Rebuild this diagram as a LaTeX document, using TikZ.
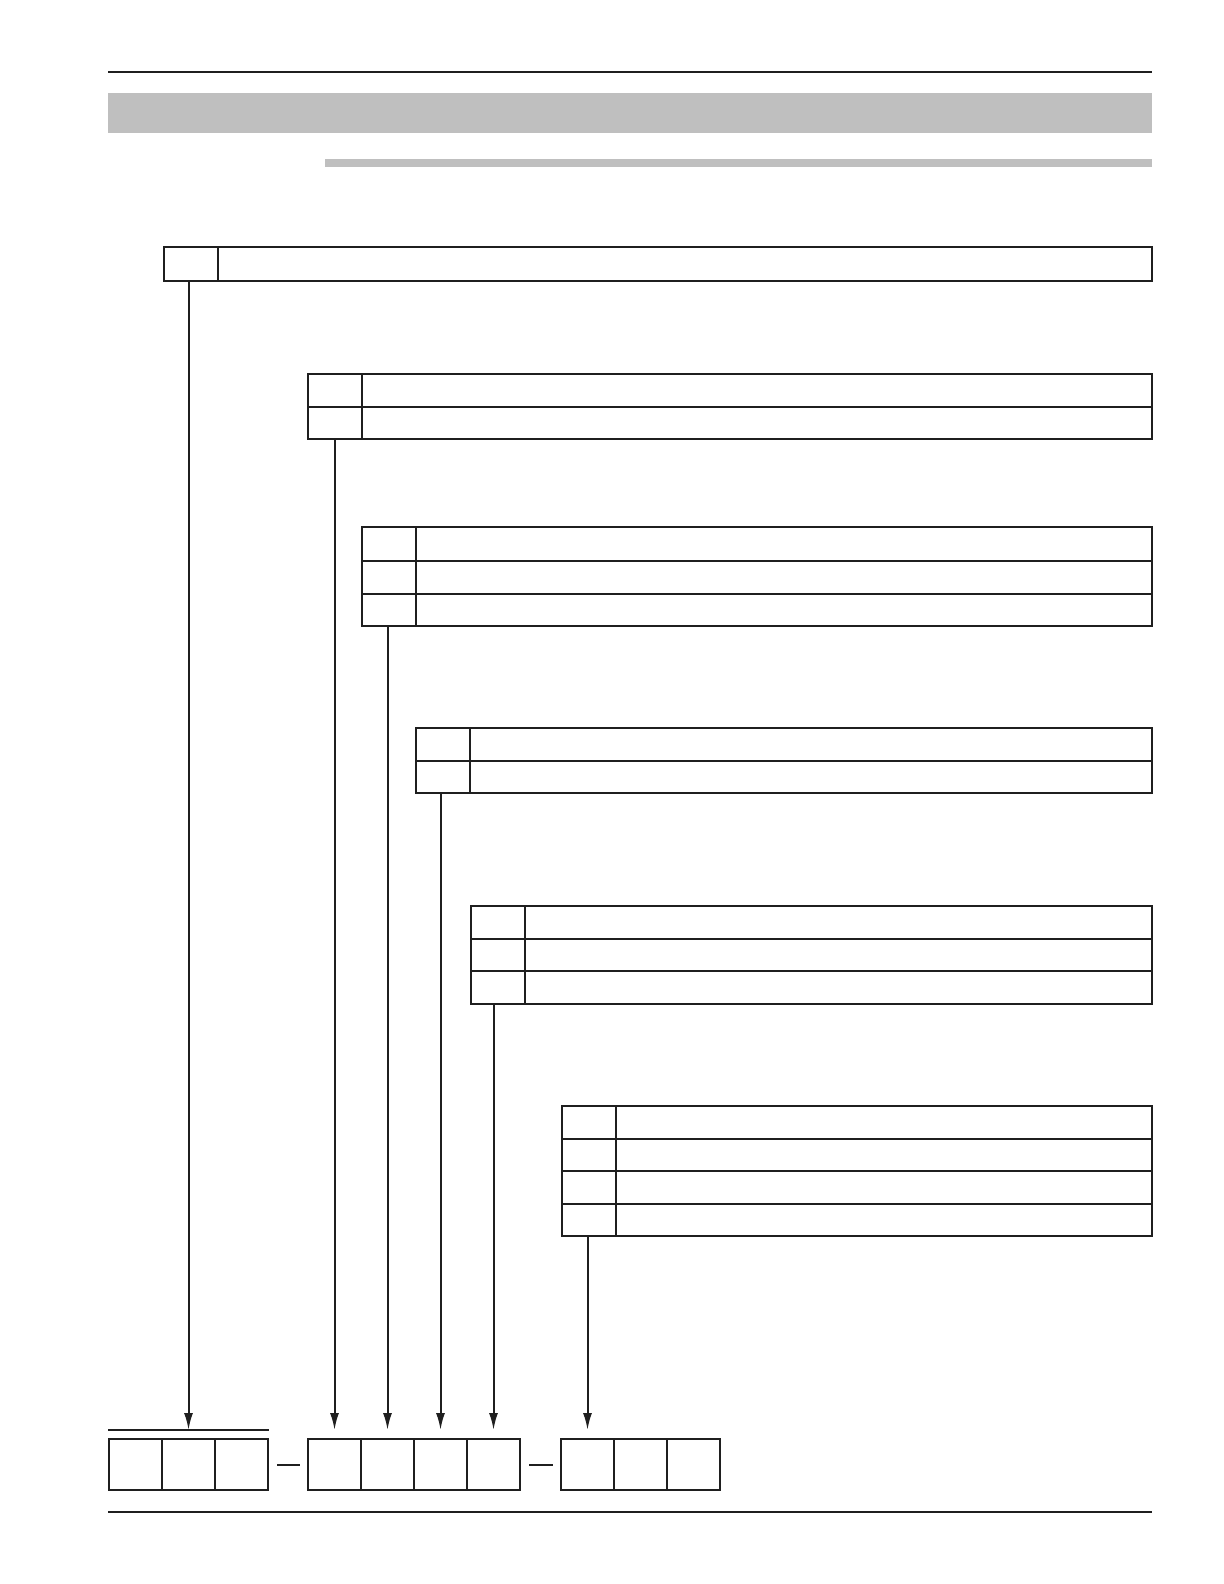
\documentclass[tikz,border=0pt]{standalone}
\usepackage{tikz}
\usetikzlibrary{arrows.meta}
\usetikzlibrary{positioning, matrix}
\colorlet{myline}{black!88}
\colorlet{mybar}{black!25}
\tikzset{
  >=latex,
  page rule/.style={line width=1pt,myline},
  code arrow/.style={-{Latex[length=8.5pt,width=4.5pt]},line width=1pt,myline,shorten >=4.5pt},
  code dash/.style={line width=1pt,myline,shorten <=4pt,shorten >=3.5pt}
}

\begin{document}
\begin{tikzpicture}[
    x=0.5pt, y=-0.5pt,
    code table/.style={matrix of nodes, nodes in empty cells, anchor=north west,
      inner sep=0pt, outer sep=0pt, line width=1pt,
      row sep=-\pgflinewidth, column sep=-\pgflinewidth,
      nodes={draw=myline, line width=1pt, inner sep=0pt, outer sep=0pt, minimum height=16.25pt},
      column 1/.style={nodes={minimum width=27pt}},
      column 2/.style={nodes={minimum width=#1}}},
    code boxes/.style={matrix of nodes, nodes in empty cells, anchor=north west,
      inner sep=0pt, outer sep=0pt, line width=1pt,
      row sep=-\pgflinewidth, column sep=-\pgflinewidth,
      nodes={draw=myline, line width=1pt, inner sep=0pt, outer sep=0pt,
        minimum width=26.5pt, minimum height=25.5pt}}
  ]
  \useasboundingbox (0,0) rectangle (1224,1584);

  % page head and foot
  \draw[page rule] (108,72) -- (1152,72);
  \fill[mybar] (108,93) rectangle (1152,133);
  \fill[mybar] (325,159) rectangle (1152,167);
  \draw[page rule] (108,1512) -- (1152,1512);

  % the tables, one per code position
  \matrix (tabA) [code table=467pt, row 1/.style={nodes={minimum height=17pt}}] at (163,246) {
     & \\
  };
  \matrix (tabB) [code table=395pt] at (307,373) {
     & \\
     & \\
  };
  \matrix (tabC) [code table=368pt, row 1/.style={nodes={minimum height=17pt}}] at (361,526) {
     & \\
     & \\
     & \\
  };
  \matrix (tabD) [code table=341pt] at (415,727) {
     & \\
     & \\
  };
  \matrix (tabE) [code table=313.5pt] at (470,905) {
     & \\
     & \\
     & \\
  };
  \matrix (tabF) [code table=268pt] at (561,1105) {
     & \\
     & \\
     & \\
     & \\
  };

  % the code boxes
  \matrix (codeA) [code boxes] at (108,1438) {
     & & \\
  };
  \matrix (codeB) [code boxes] at (307,1438) {
     & & & \\
  };
  \matrix (codeC) [code boxes] at (560,1438) {
     & & \\
  };

  \draw[page rule] ([yshift=4pt]codeA.north west) -- ([yshift=4pt]codeA.north east);
  \draw[code dash] (codeA) -- (codeB);
  \draw[code dash] (codeB) -- (codeC);

  \draw[code arrow] (tabA-1-1.south -| codeA-1-2.north) -- (codeA-1-2.north);
  \draw[code arrow] (tabB-2-1.south -| codeB-1-1.north) -- (codeB-1-1.north);
  \draw[code arrow] (tabC-3-1.south -| codeB-1-2.north) -- (codeB-1-2.north);
  \draw[code arrow] (tabD-2-1.south -| codeB-1-3.north) -- (codeB-1-3.north);
  \draw[code arrow] (tabE-3-1.south -| codeB-1-4.north) -- (codeB-1-4.north);
  \draw[code arrow] (tabF-4-1.south -| codeC-1-1.north) -- (codeC-1-1.north);

\end{tikzpicture}
\end{document}
